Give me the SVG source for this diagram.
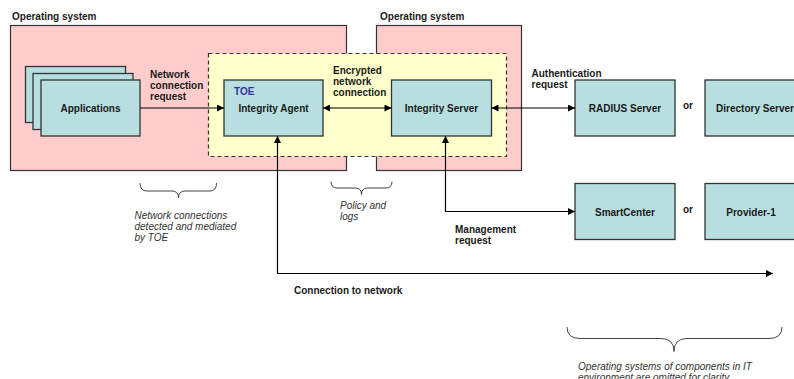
<svg xmlns="http://www.w3.org/2000/svg" width="794" height="379" viewBox="0 0 794 379">
<defs>
<marker id="ah" viewBox="0 0 10 10" refX="10" refY="5" markerWidth="8" markerHeight="7" markerUnits="userSpaceOnUse" orient="auto-start-reverse">
<path d="M0,0 L10,5 L0,10 z" fill="#000"/>
</marker>
<style>
.os{fill:#FFCCCC;stroke:#333;stroke-width:1.2}
.toe{fill:#FFFFCC;stroke:#333;stroke-width:1.2;stroke-dasharray:4,3}
.box{fill:#B8DFE0;stroke:#333;stroke-width:1.3}
.t{font-family:"Liberation Sans",Arial,sans-serif;font-size:10px;font-weight:bold;fill:#1a1a1a}
.c{text-anchor:middle}
.i{font-family:"Liberation Sans",Arial,sans-serif;font-size:10px;font-style:italic;fill:#333}
.ln{fill:none;stroke:#000;stroke-width:1.2}
.br{fill:none;stroke:#444;stroke-width:1}
</style>
</defs>
<rect width="794" height="379" fill="#fff"/>
<g id="os-left">
<rect class="os" x="10.5" y="25.5" width="336" height="145"/>
<text class="t" x="12" y="19.5">Operating system</text>
</g>
<g id="os-right">
<rect class="os" x="376.5" y="25.5" width="145" height="145"/>
<text class="t" x="380" y="19.5">Operating system</text>
</g>
<g id="toe-boundary">
<rect class="toe" x="208.5" y="53.5" width="298" height="103"/>
</g>
<g id="applications">
<rect class="box" x="25.5" y="66.5" width="100" height="56"/>
<rect class="box" x="33" y="73.5" width="100" height="56"/>
<rect class="box" x="41" y="80" width="99" height="56"/>
<text class="t c" x="90.5" y="112">Applications</text>
</g>
<g id="integrity-agent">
<rect class="box" x="224" y="80" width="99" height="56"/>
<text class="t" x="234" y="95" style="fill:#333399">TOE</text>
<text class="t c" x="273.5" y="112">Integrity Agent</text>
</g>
<g id="integrity-server">
<rect class="box" x="391.5" y="80" width="100" height="56"/>
<text class="t c" x="441.5" y="112">Integrity Server</text>
</g>
<g id="radius-server">
<rect class="box" x="575" y="80" width="100" height="56"/>
<text class="t c" x="625" y="112">RADIUS Server</text>
</g>
<g id="directory-server">
<rect class="box" x="705" y="80" width="100" height="56"/>
<text class="t c" x="755" y="112">Directory Server</text>
</g>
<g id="smartcenter">
<rect class="box" x="575" y="183.5" width="100" height="56"/>
<text class="t c" x="625" y="216">SmartCenter</text>
</g>
<g id="provider-1">
<rect class="box" x="705" y="183.5" width="100" height="56"/>
<text class="t c" x="751" y="216">Provider-1</text>
</g>
<g id="connectors">
<line class="ln" x1="140" y1="108" x2="224" y2="108" marker-end="url(#ah)"/>
<line class="ln" x1="323" y1="108" x2="391.5" y2="108" marker-start="url(#ah)" marker-end="url(#ah)"/>
<line class="ln" x1="491.5" y1="108" x2="575" y2="108" marker-start="url(#ah)" marker-end="url(#ah)"/>
<path class="ln" d="M277.5,136 L277.5,273.5 L773,273.5" marker-start="url(#ah)" marker-end="url(#ah)"/>
<path class="ln" d="M445.5,136 L445.5,211.5 L575,211.5" marker-start="url(#ah)" marker-end="url(#ah)"/>
</g>
<g id="labels">
<text class="t"><tspan x="150" y="77.5">Network</tspan><tspan x="150" y="88.5">connection</tspan><tspan x="150" y="99.5">request</tspan></text>
<text class="t"><tspan x="333" y="73.5">Encrypted</tspan><tspan x="333" y="84.5">network</tspan><tspan x="333" y="95.5">connection</tspan></text>
<text class="t"><tspan x="531.5" y="77">Authentication</tspan><tspan x="531.5" y="88">request</tspan></text>
<text class="t"><tspan x="455" y="233">Management</tspan><tspan x="455" y="244">request</tspan></text>
<text class="t" x="294" y="294">Connection to network</text>
<text class="t" x="683" y="108.5" style="font-weight:bold">or</text>
<text class="t" x="683" y="212.5">or</text>
</g>
<g id="notes">
<path class="br" d="M140,183 Q140,191 147,191 L172,191 Q178.5,191 178.5,198 Q178.5,191 185,191 L210,191 Q216.5,191 216.5,183"/>
<path class="br" d="M331,181.5 Q331,188 337,188 L355.5,188 Q361.5,188 361.5,194.5 Q361.5,188 367.5,188 L386,188 Q392,188 392,181.5"/>
<path class="br" d="M567,327 Q567,338.5 580,338.5 L661,338.5 Q674,338.5 674,351.5 Q674,338.5 687,338.5 L769,338.5 Q782,338.5 782,327"/>
<text class="i"><tspan x="134.5" y="218.5">Network connections</tspan><tspan x="134.5" y="229.5">detected and mediated</tspan><tspan x="134.5" y="240.5">by TOE</tspan></text>
<text class="i"><tspan x="340" y="208.5">Policy and</tspan><tspan x="340" y="219.5">logs</tspan></text>
<text class="i"><tspan x="578" y="370">Operating systems of components in IT</tspan><tspan x="578" y="381">environment are omitted for clarity</tspan></text>
</g>
</svg>
